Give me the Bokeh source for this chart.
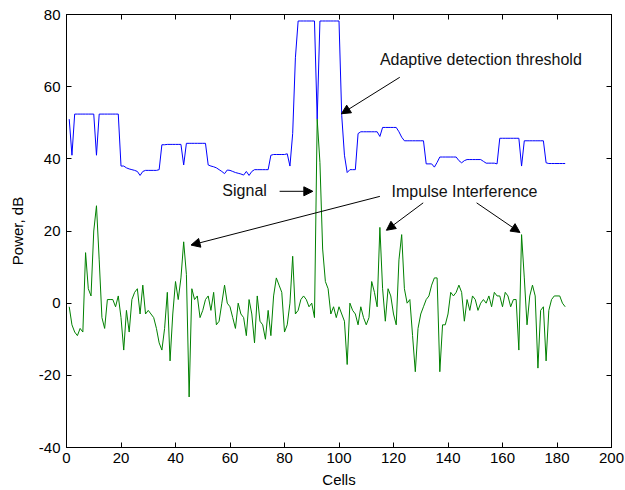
from bokeh.plotting import figure
from bokeh.models import (LinearAxis, Label, Arrow, NormalHead, ColumnDataSource,
                          CustomLabelingPolicy)
from bokeh.embed import file_html
from bokeh.resources import INLINE

# ---- data -------------------------------------------------------------
cells = list(range(1, 184))

threshold = [
    51, 41, 52.4, 52.4, 52.4, 52.4, 52.4, 52.4, 52.4, 52.4,            # 1-10
    41, 52.4, 52.4, 52.4, 52.4, 52.4, 52.4, 52.4, 52.4, 38,            # 11-20
    38, 37.5, 37.2, 37, 36.8, 36.5, 35.4, 36.5, 36.8, 36.8,            # 21-30
    36.8, 36.8, 36.8, 37, 43.9, 43.9, 44, 44, 44, 44,                  # 31-40
    44, 44, 38.3, 44.3, 44.3, 44.3, 44.3, 44.3, 44.3, 44.3,            # 41-50
    44.3, 38.3, 38, 37.8, 37.5, 37, 36.5, 35.9, 36.9, 36.8,            # 51-60
    36.5, 36.2, 36, 35.8, 35.5, 36.5, 35.4, 36.5, 37, 37,              # 61-70
    37, 37, 37, 37, 41, 41.2, 41.2, 41.2, 41.2, 41.2,                  # 71-80
    41.4, 38, 47, 68, 78.2, 78.2, 78.2, 78.2, 78.2, 78.2,              # 81-90
    78.2, 51, 78.2, 78.2, 78.2, 78.2, 78.2, 78.2, 78.2, 78.2,          # 91-100
    52, 41, 36.2, 37, 37, 37, 47, 47.5, 47.5, 47.5,                    # 101-110
    47.5, 47.5, 47.5, 47.5, 46.2, 48.7, 48.7, 48.7, 48.7, 48.7,        # 111-120
    48.7, 47.5, 46, 45, 45, 45, 45, 45, 45, 45,                        # 121-130
    45, 38.6, 38.6, 38.6, 37.7, 39, 40.5, 40.5, 40.5, 40.5,            # 131-140
    40.5, 40.5, 40.5, 39.5, 38.9, 39.5, 39.8, 39.8, 39.8, 39.8,        # 141-150
    39.8, 39.8, 39.3, 38.8, 38.8, 38.8, 38.8, 38.6, 45.7, 45.7,        # 151-160
    45.7, 45.7, 45.7, 45.7, 45.7, 45.7, 38, 45, 45, 45,                # 161-170
    45, 45, 45, 45, 45, 38.9, 38.7, 38.7, 38.7, 38.7,                  # 171-180
    38.7, 38.7, 38.7,                                                  # 181-183
]

power = [
    -1, -6, -8, -9, -7, -8, 14, 4, 2, 20,                 # 1-10
    27, 12, -4, -7, 1, 1, 1, -1, 2, -4,                   # 11-20
    -13, -2, -8, 1, 3, 4, -3, 5, -3, -2,                  # 21-30
    -3, -4, -7, -11, -13, -7, 3, -16, -3, 6,              # 31-40
    1, 7, 17, 8, -26, 4, 1, 2, -4, -2,                    # 41-50
    1, 2, -2, 3, -6, -5, 0, 5, 0, -1,                     # 51-60
    -4, -7, 0, -3, -4, -9, 1, -3, -11, 2,                 # 61-70
    -5, -6, -10, -2, -9, 2, 7, 5, 3, -8,                  # 71-80
    -6, 0, 13, -3, -2, 1, 2, 1, -1, 0,                    # 81-90
    -4, 51, 39, 15, 6, 4, -3, -1, -4, -1,                 # 91-100
    -3, -5, -17, 0, -2, -3, -6, -1, -4, -6,               # 101-110
    -4, 6, 3, -1, 21, 4, -5, 4, 2, -3,                    # 111-120
    -6, 12, 19, 4, 0, 1, -9, -19, -7, -3,                 # 121-130
    -1, 1, 2, 5, 7, 7, -19, -6, -6, -3,                   # 131-140
    3, 2, 3, 5, 3, -5, 1, -2, 2, 1,                       # 141-150
    -2, 0, 1, 0, 2, -1, 3, 2, 2, -1,                      # 151-160
    3, 2, -1, 1, 1, -13, 19, 7, -6, 2,                    # 161-170
    5, 2, -18, -2, -1, -16, -2, 1, 2, 2,                  # 171-180
    2, 0, -1,                                             # 181-183
]

x_ticks = [0, 20, 40, 60, 80, 100, 120, 140, 160, 180, 200]
y_ticks = [-40, -20, 0, 20, 40, 60, 80]
y_tick_labels = ["-40", "-20", "0", "20", "40", "60", "80"]

# annotation texts and placements (data units)
labels = [
    ("Adaptive detection threshold", 115, 67.6),
    ("Signal", 57.2, 31.3),
    ("Impulse Interference", 119.3, 31.0),
]
arrows = [
    (122.3, 62.6, 100.9, 52.5),
    (78.2, 31.0, 90.4, 31.0),
    (115.0, 29.6, 45.7, 16.1),
    (130.9, 27.8, 117.4, 20.2),
    (150.5, 27.8, 166.4, 19.6),
]

# ---- figure -----------------------------------------------------------
FONT = "Liberation Sans"

p = figure(
    frame_width=545, frame_height=433,
    x_range=(0, 200), y_range=(-40, 80),
    output_backend="svg", toolbar_location=None,
    min_border_left=66, min_border_top=14, min_border_right=8, min_border_bottom=42,
    background_fill_color="white", border_fill_color="white",
)
p.xgrid.visible = False
p.ygrid.visible = False
p.outline_line_color = "black"
p.outline_line_width = 1

src = ColumnDataSource(dict(cell=cells, thr=threshold, pw=power))
p.line("cell", "thr", source=src, line_color="#0000ff", line_width=1)
p.line("cell", "pw", source=src, line_color="#008000", line_width=1)

for ax, ticks in ((p.xaxis[0], x_ticks), (p.yaxis[0], y_ticks)):
    ax.ticker = ticks
    ax.major_tick_in = 5
    ax.major_tick_out = 0
    ax.minor_tick_line_color = None
    ax.axis_line_color = "black"
    ax.major_tick_line_color = "black"
    ax.major_label_text_font = FONT
    ax.major_label_text_font_size = "15px"
    ax.major_label_text_color = "black"
    ax.axis_label_text_font = FONT
    ax.axis_label_text_font_size = "15px"
    ax.axis_label_text_font_style = "normal"
    ax.axis_label_text_color = "black"

p.yaxis.major_label_overrides = dict(zip(y_ticks, y_tick_labels))
p.xaxis.axis_label = "Cells"
p.yaxis.axis_label = "Power, dB"
p.xaxis.major_label_standoff = 5
p.xaxis.axis_label_standoff = 5
p.yaxis.major_label_standoff = 6
p.yaxis.axis_label_standoff = 10

no_labels = CustomLabelingPolicy(code="return new Set()")
for loc, ticks in (("above", x_ticks), ("right", y_ticks)):
    ax = LinearAxis(
        ticker=ticks, major_tick_in=5, major_tick_out=0, minor_tick_line_color=None,
        major_label_policy=no_labels, major_label_standoff=0,
        axis_line_color="black", major_tick_line_color="black",
    )
    p.add_layout(ax, loc)

for txt, x, y in labels:
    p.add_layout(Label(x=x, y=y, text=txt, text_font=FONT,
                       text_font_size="16px", text_baseline="middle",
                       text_color="#111111"))

for x0, y0, x1, y1 in arrows:
    p.add_layout(Arrow(x_start=x0, y_start=y0, x_end=x1, y_end=y1,
                       line_color="black", line_width=1,
                       end=NormalHead(size=9, fill_color="black", line_color="black")))

open("out.html", "w").write(file_html(p, INLINE))
